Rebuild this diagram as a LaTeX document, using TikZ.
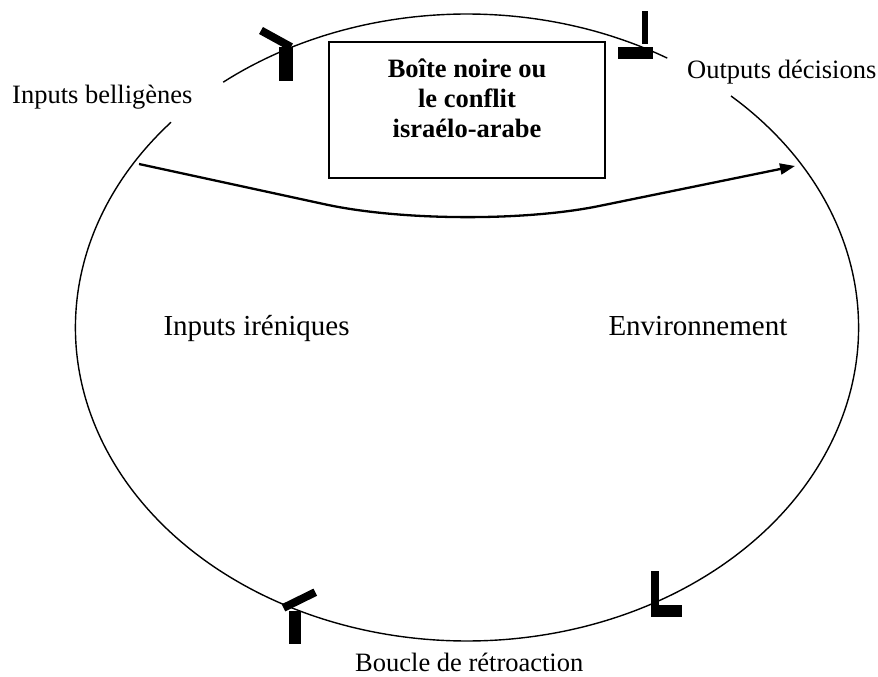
\documentclass[tikz,border=0pt]{standalone}
\usepackage{fontspec}
\setmainfont{Liberation Serif}
\usetikzlibrary{arrows.meta}
\begin{document}
\begin{tikzpicture}[x=1pt,y=-1pt,
  lbl/.style={inner sep=0pt, anchor=base west, font=\fontsize{26.5}{30}\selectfont},
  biglbl/.style={inner sep=0pt, anchor=base west, font=\fontsize{29}{33}\selectfont},
  loopline/.style={line width=1.4pt},
  markbar/.style={fill=black, draw=none},
  markline/.style={line width=8pt, line cap=butt},
  flow/.style={line width=2.3pt, rounded corners=140pt, -{Triangle[length=15pt,width=11pt]}}]
\useasboundingbox (0,0) rectangle (878,677);
% feedback loop (ellipse with two gaps)
\draw[loopline] plot[domain=231.5:300.75, samples=60, smooth]
  ({467+391.6*cos(\x)}, {327.5+313.5*sin(\x)});
\draw[loopline] plot[domain=312.4:580.9, samples=240, smooth]
  ({467+391.6*cos(\x)}, {327.5+313.5*sin(\x)});
% black box
\node[draw, line width=1.6pt, minimum width=276pt, minimum height=136pt, inner sep=0pt] (box) at (467,110) {};
\node[font=\fontsize{26.5}{30.2}\selectfont\bfseries, align=center, anchor=base, inner sep=0pt] (title) at (467,137.7) {Boîte noire ou\\le conflit\\israélo-arabe};
% labels
\node[lbl] (bell) at (12,103) {Inputs belligènes};
\node[lbl] (outp) at (687,78) {Outputs décisions};
\node[biglbl] (iren) at (163.3,335) {Inputs iréniques};
\node[biglbl] (env) at (608.3,335) {Environnement};
\node[lbl] (boucle) at (355,671) {Boucle de rétroaction};
% arrow
\coordinate (as) at (139,164);
\coordinate (ak) at (462,234);
\coordinate (ae) at (795,166);
\draw[flow] (as) -- (ak) -- (ae);
% marks
\fill[markbar] (279.3,47.3) rectangle (292.7,80.7);
\draw[markline] (261,30.5) -- (291,47);
\fill[markbar] (641.7,11) rectangle (647.7,44.3);
\fill[markbar] (618.3,47.3) rectangle (652.7,59);
\fill[markbar] (289,611) rectangle (301,644);
\draw[markline] (283.5,607.8) -- (315.3,592.2);
\fill[markbar] (650.7,570.7) rectangle (659.3,617.3);
\fill[markbar] (650.7,605) rectangle (681.7,617.3);
\end{tikzpicture}
\end{document}
